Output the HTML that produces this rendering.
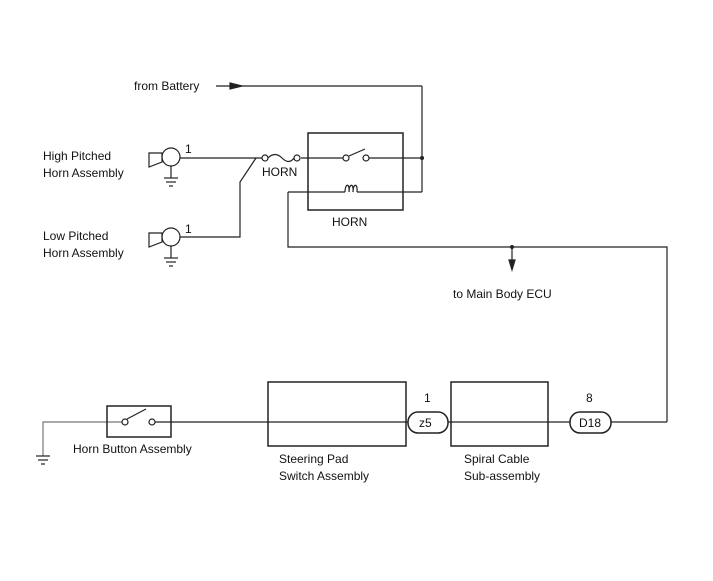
<!DOCTYPE html>
<html><head><style>body{margin:0;background:#fff}svg{display:block}text{font-family:"Liberation Sans",sans-serif;font-size:12px;fill:#111}</style></head>
<body>
<svg width="713" height="581" viewBox="0 0 713 581" xmlns="http://www.w3.org/2000/svg">
<g stroke="#222" stroke-width="1.2" fill="none">
<line x1="216" y1="86" x2="422" y2="86"/>
<polygon points="230,83 242,86 230,89" fill="#222"/>
<line x1="422" y1="86" x2="422" y2="192"/>
<line x1="403" y1="158" x2="422" y2="158"/>
<line x1="403" y1="192" x2="422" y2="192"/>
<rect x="308" y="133" width="95" height="77" stroke-width="1.5"/>
<line x1="301" y1="158" x2="343" y2="158"/>
<circle cx="346" cy="158" r="3" fill="#fff"/>
<circle cx="366" cy="158" r="3" fill="#fff"/>
<line x1="349" y1="156" x2="365" y2="149"/>
<line x1="369" y1="158" x2="403" y2="158"/>
<line x1="288" y1="192" x2="345" y2="192"/>
<path d="M345,192 c0,-9 5,-9 4,0 c0,-9 5,-9 4,0 c0,-9 5,-9 4,0"/>
<line x1="357" y1="192" x2="403" y2="192"/>
<polyline points="288,192 288,247 667,247 667,422"/>
<line x1="512" y1="247" x2="512" y2="268"/>
<polygon points="509,260 512,270 515,260" fill="#222"/>
<line x1="180" y1="158" x2="262" y2="158"/>
<circle cx="265" cy="158" r="3" fill="#fff"/>
<circle cx="297" cy="158" r="3" fill="#fff"/>
<path d="M268,158 q7,-7 14,0 q7,7 12,0"/>
<polyline points="256,158 240,182 240,237 180,237"/>
<circle cx="171" cy="157" r="9"/>
<polygon points="162,153 149,153 149,167 162,162"/>
<line x1="171" y1="166" x2="171" y2="178"/>
<line x1="164" y1="178" x2="178" y2="178"/><line x1="166" y1="182" x2="176" y2="182"/><line x1="169" y1="186" x2="173" y2="186"/>
<circle cx="171" cy="237" r="9"/>
<polygon points="162,233 149,233 149,247 162,242"/>
<line x1="171" y1="246" x2="171" y2="258"/>
<line x1="164" y1="258" x2="178" y2="258"/><line x1="166" y1="262" x2="176" y2="262"/><line x1="169" y1="266" x2="173" y2="266"/>
<polyline points="43,456 43,422 122,422" stroke="#777"/>
<line x1="36" y1="456" x2="50" y2="456"/><line x1="38" y1="460" x2="48" y2="460"/><line x1="41" y1="464" x2="45" y2="464"/>
<rect x="107" y="406" width="64" height="31" stroke-width="1.5"/>
<circle cx="125" cy="422" r="3" fill="#fff"/>
<circle cx="152" cy="422" r="3" fill="#fff"/>
<line x1="127" y1="419" x2="146" y2="409"/>
<line x1="155" y1="422" x2="408" y2="422"/>
<rect x="268" y="382" width="138" height="64" stroke-width="1.5"/>
<rect x="408" y="412" width="40" height="21" rx="10" fill="#fff" stroke-width="1.5"/>
<line x1="448" y1="422" x2="570" y2="422"/>
<rect x="451" y="382" width="97" height="64" stroke-width="1.5"/>
<rect x="570" y="412" width="41" height="21" rx="10" fill="#fff" stroke-width="1.5"/>
<line x1="611" y1="422" x2="667" y2="422"/>
</g>
<circle cx="422" cy="158" r="2" fill="#222"/>
<circle cx="512" cy="247" r="2" fill="#222"/>
<text x="134" y="90">from Battery</text>
<text x="43" y="160">High Pitched</text><text x="43" y="177">Horn Assembly</text>
<text x="43" y="240">Low Pitched</text><text x="43" y="257">Horn Assembly</text>
<text x="185" y="153">1</text><text x="185" y="233">1</text>
<text x="262" y="176">HORN</text>
<text x="332" y="226">HORN</text>
<text x="453" y="298">to Main Body ECU</text>
<text x="73" y="453">Horn Button Assembly</text>
<text x="279" y="463">Steering Pad</text><text x="279" y="480">Switch Assembly</text>
<text x="464" y="463">Spiral Cable</text><text x="464" y="480">Sub-assembly</text>
<text x="424" y="402">1</text><text x="419" y="427">z5</text>
<text x="586" y="402">8</text><text x="579" y="427">D18</text>
</svg>
</body></html>
